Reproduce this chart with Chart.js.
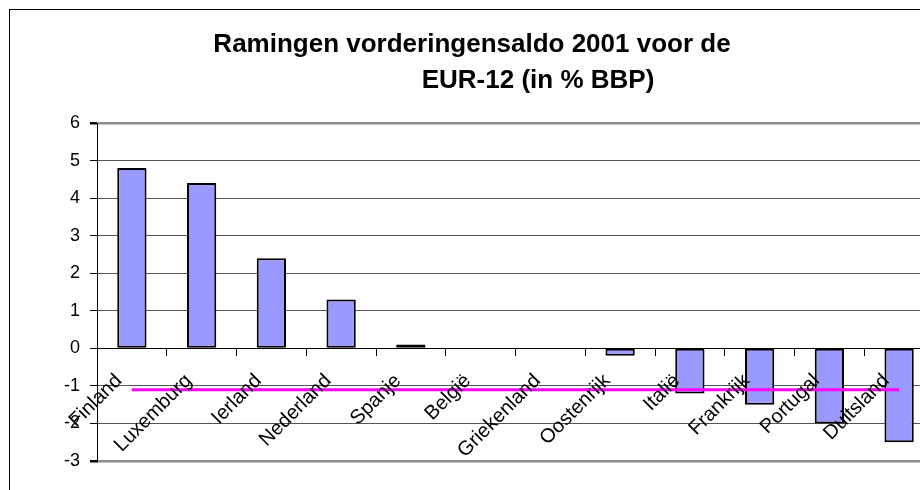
<!DOCTYPE html>
<html lang="nl">

<head>
  <meta charset="utf-8">
  <title>Ramingen vorderingensaldo 2001</title>
  <script src="https://cdn.jsdelivr.net/npm/chart.js@4.4.1/dist/chart.umd.min.js"></script>
  <style>
    html, body { margin: 0; padding: 0; background: #fff; overflow: hidden; }
    #frame {
      position: absolute;
      left: 9px;
      top: 9px;
      width: 990px;
      height: 500px;
      border: 1px solid #000;
    }
  </style>
</head>

<body>
  <div id="frame">
    <canvas id="myChart" width="990" height="490"></canvas>
  </div>

  <script>
    // data
    const landen = ['Finland', 'Luxemburg', 'Ierland', 'Nederland', 'Spanje', 'België',
      'Griekenland', 'Oostenrijk', 'Italië', 'Frankrijk', 'Portugal', 'Duitsland'];
    const saldo2001 = [4.8, 4.4, 2.4, 1.3, 0.1, 0, 0, -0.2, -1.2, -1.5, -2.0, -2.5];
    const gemiddeldeEur12 = [-1.1, -1.1, -1.1, -1.1, -1.1, -1.1, -1.1, -1.1, -1.1, -1.1, -1.1, -1.1];
    const titel = ['Ramingen vorderingensaldo 2001 voor de', 'EUR-12 (in % BBP)'];
    const yMin = -3;
    const yMax = 6;

    const fontFamily = "'Liberation Sans', Arial, sans-serif";

    // second title line sits a bit right of centre in the original
    const tweedeTitelRegel = {
      id: 'tweedeTitelRegel',
      afterDraw(chart) {
        const c = chart.ctx;
        c.save();
        c.font = 'bold 26px ' + fontFamily;
        c.fillStyle = '#000';
        c.textAlign = 'center';
        c.textBaseline = 'middle';
        c.fillText(titel[1], 528, 71);
        c.restore();
      }
    };

    var ctx = document.getElementById('myChart');
    var myChart = new Chart(ctx, {
      type: 'bar',
      data: {
        labels: landen,
        datasets: [
          {
            type: 'line',
            label: 'EUR-12',
            data: gemiddeldeEur12,
            borderColor: '#ff00ff',
            borderWidth: 3,
            pointRadius: 0,
            fill: false,
            order: 0
          },
          {
            label: 'Vorderingensaldo 2001',
            data: saldo2001,
            backgroundColor: '#9999ff',
            borderColor: '#000000',
            borderWidth: 2,
            borderSkipped: false,
            barPercentage: 0.42,
            categoryPercentage: 1.0,
            order: 1
          }
        ]
      },
      plugins: [tweedeTitelRegel],
      options: {
        responsive: false,
        animation: false,
        layout: {
          padding: { left: 0, right: 66, top: 0, bottom: 39 }
        },
        plugins: {
          legend: { display: false },
          tooltip: { enabled: false },
          title: {
            display: true,
            text: titel[0],
            color: '#000',
            font: { family: fontFamily, size: 26, weight: 'bold', lineHeight: 1.385 },
            padding: { top: 17, bottom: 60 }
          }
        },
        scales: {
          x: {
            position: { y: 0 },
            offset: true,
            grid: {
              offset: true,
              drawOnChartArea: false,
              drawTicks: true,
              tickLength: 7,
              tickColor: '#000'
            },
            border: { display: true, color: '#000', width: 1 },
            ticks: {
              z: 1, // labels over the bars, as in the original
              autoSkip: false,
              minRotation: 45,
              maxRotation: 45,
              padding: 14,
              labelOffset: -13,
              color: '#000',
              font: { family: fontFamily, size: 20 }
            }
          },
          y: {
            min: yMin,
            max: yMax,
            afterFit: function (scale) { scale.width = 87; },
            grid: {
              color: function (c) {
                if (c.tick.value === 0) return '#000';
                if (c.tick.value === yMin || c.tick.value === yMax) return '#8c8c8c';
                return '#555';
              },
              lineWidth: function (c) {
                if (c.tick.value === yMin || c.tick.value === yMax) return 2.5;
                return 1;
              },
              tickLength: 7,
              tickColor: '#000'
            },
            border: { display: true, color: '#000', width: 1 },
            ticks: {
              stepSize: 1,
              padding: 10,
              color: '#000',
              font: { family: fontFamily, size: 18 }
            }
          }
        }
      }
    });
  </script>
</body>

</html>
